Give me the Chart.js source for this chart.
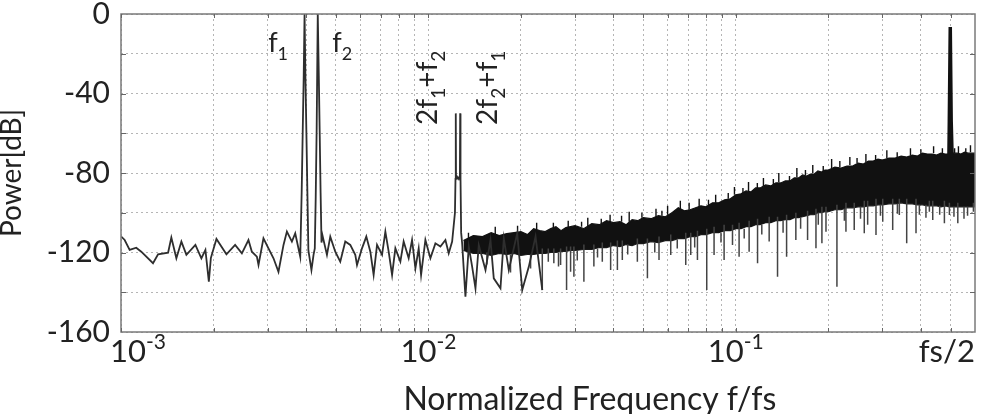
<!DOCTYPE html>
<html><head><meta charset="utf-8">
<script src="https://cdn.jsdelivr.net/npm/chart.js@4.4.1/dist/chart.umd.min.js"></script>
<style>html,body{margin:0;padding:0;background:#fff;}canvas{display:block;}</style>
</head><body>
<canvas id="c" width="981" height="414"></canvas>
<script>
// ---- data ----
const lowFreq = [1.002e-3,1.028e-3,1.067e-3,1.121e-3,1.164e-3,1.271e-3,1.320e-3,1.423e-3,1.458e-3,1.514e-3,
 1.572e-3,1.632e-3,1.746e-3,1.826e-3,1.882e-3,1.931e-3,1.960e-3,2.044e-3,2.203e-3,2.351e-3,
 2.473e-3,2.598e-3,2.665e-3,2.767e-3,2.801e-3,2.907e-3,3.018e-3,3.134e-3,3.253e-3,3.378e-3,
 3.465e-3,3.597e-3,3.688e-3,3.829e-3,3.870e-3,3.900e-3,3.930e-3,3.955e-3,3.980e-3,4.010e-3,
 4.040e-3,4.070e-3,4.164e-3,4.230e-3,4.270e-3,4.300e-3,4.330e-3,4.366e-3,4.400e-3,4.430e-3,
 4.460e-3,4.490e-3,4.520e-3,4.677e-3,4.795e-3,4.978e-3,5.168e-3,5.365e-3,5.570e-3,5.783e-3,
 5.858e-3,6.081e-3,6.281e-3,6.473e-3,6.635e-3,6.806e-3,7.067e-3,7.244e-3,7.426e-3,7.618e-3,
 7.808e-3,8.106e-3,8.308e-3,8.626e-3,8.848e-3,9.073e-3,9.299e-3,9.467e-3,9.777e-3,1.0151e-2,
 1.0539e-2,1.0942e-2,1.1360e-2,1.1644e-2,1.1946e-2,1.2200e-2,1.2250e-2,1.2276e-2,1.2300e-2,1.2400e-2,
 1.2500e-2,1.2600e-2,1.2660e-2,1.2687e-2,1.2720e-2,1.2780e-2,1.2876e-2,1.3197e-2,1.3530e-2,1.3877e-2,
 1.4228e-2,1.4583e-2,1.5337e-2,1.5922e-2,1.6319e-2,1.7158e-2,1.7590e-2,1.8262e-2,1.9453e-2,2.0196e-2,
 2.1220e-2,2.2311e-2,2.3470e-2];
const lowPower = [-112,-113.7,-118.7,-117.6,-119.6,-125.4,-120.9,-120.1,-112.5,-122.9,
 -114.5,-121.2,-116.2,-122.9,-118.7,-134.7,-122.8,-113.2,-120.9,-116.2,
 -120.4,-113.7,-119.6,-122.1,-126.3,-112.9,-117.9,-122.9,-129.7,-116.2,
 -109.5,-114.5,-110.3,-122.1,-90,-60,-31,0,-31,-60,
 -90,-119,-128.8,-121.2,-118,-92,-58,0,-31,-60,
 -90,-115,-111.2,-121.2,-112,-119.6,-124.6,-114.5,-116.2,-121.2,
 -126.3,-117.9,-112,-119.6,-131.3,-116.2,-121.2,-109.5,-119.6,-131.3,
 -117.9,-124.6,-114.5,-122.9,-113.7,-128,-117.9,-131.3,-113.7,-122.9,
 -115.4,-117,-113.7,-120.4,-114.5,-100,-83,-50,-83,-82,
 -83,-82,-83,-50,-83,-110,-115.4,-142.2,-117,-127.1,
 -138,-116.2,-128.8,-113.7,-133,-138,-112.9,-128.8,-110.3,-138.9,
 -127.1,-112,-138.9];

// dense noise band: upper and lower edge of the solid black region
const bandFreq = [0.013,0.014,0.015,0.016,0.017,0.018,0.019,0.020,0.021,0.022,
 0.023,0.024,0.025,0.026,0.027,0.028,0.029,0.030,0.032,0.034,
 0.036,0.038,0.040,0.042,0.044,0.046,0.048,0.050,0.053,0.056,
 0.059,0.062,0.065,0.068,0.071,0.074,0.077,0.080,0.084,0.088,
 0.092,0.096,0.100,0.104,0.108,0.112,0.116,0.120,0.125,0.130,
 0.135,0.140,0.145,0.150,0.155,0.160,0.165,0.170,0.175,0.180,
 0.185,0.190,0.195,0.200,0.210,0.220,0.230,0.240,0.250,0.260,
 0.270,0.280,0.290,0.300,0.315,0.330,0.345,0.360,0.375,0.390,
 0.405,0.420,0.435,0.450,0.465,0.480,0.495,0.510,0.525,0.540,
 0.555,0.570,0.585,0.600];
const bandTop = [-114,-111.5,-112,-110,-111.5,-110.5,-110,-109.5,-111,-108,
 -109,-109.5,-108,-107,-109,-107.5,-107,-106.5,-108,-105.5,
 -106,-104,-105,-104.5,-106,-103.5,-104,-102.5,-103,-101.5,
 -102,-100,-97.5,-99,-98.5,-97.5,-96.5,-97,-95,-95,
 -93.5,-93,-91,-90.5,-89,-89.5,-87.5,-87.5,-86,-86.5,
 -85,-85,-84,-84,-82.5,-82.5,-81,-81.5,-80.5,-80.5,
 -79,-79.5,-78.5,-78.5,-77,-77.5,-76.5,-76.5,-75,-75.5,
 -74,-74,-73,-73.5,-72.5,-72.5,-71.5,-72,-71,-71.5,
 -70,-70.5,-70.5,-71,-70,-70.5,-70.5,-70,-70,-70.5,
 -69.5,-70,-70,-70];
const bandBottom = [-119,-120.5,-120.5,-121.5,-120.5,-121,-120.5,-121.5,-121,-121,
 -120.5,-120.5,-120,-120,-119.5,-119.5,-119,-119,-118.5,-118.5,
 -117.5,-117.5,-116.5,-117,-116,-116.5,-115.5,-115.5,-114.5,-115,
 -114,-114,-113,-113,-112,-112,-111,-111,-110,-110,
 -109,-109,-108,-108,-107,-107,-106,-106,-105,-105,
 -104,-104,-103.5,-103.5,-102.5,-102.5,-102,-101.5,-101,-101,
 -100,-100,-99.5,-99.5,-98.5,-98.5,-97.5,-97.5,-97,-97,
 -96.5,-96.5,-96,-96,-95.5,-95.5,-95,-95.5,-95.5,-96,
 -96,-96.5,-96.5,-96.5,-97,-96.5,-97,-97,-97,-97,
 -97,-97,-97,-97];

// needles hanging below the band (base -> tip)
const spikeFreq = [2.347e-2,2.455e-2,2.559e-2,2.692e-2,2.815e-2,2.901e-2,2.974e-2,3.205e-2,3.454e-2,3.679e-2,
 3.916e-2,4.119e-2,4.274e-2,4.784e-2,5.158e-2,5.626e-2,6.143e-2,6.873e-2,7.136e-2,7.503e-2,
 8.044e-2,8.498e-2,9.161e-2,9.756e-2,0.1025,0.1105,0.1177,0.1284,0.1367,0.1463,
 0.1568,0.1712,0.1823,0.1906,0.1965,0.2133,0.2282,0.2428,0.2618,0.2685,
 0.2858,0.3006,0.3239,0.3404,0.3597,0.3857,0.4263,0.4372,0.4771,0.4953,
 0.5275,0.5929,
 0.0155,0.0185,0.0215,0.0265,0.0305,0.0355,0.0445,0.0545,0.0645,0.0735,
 0.0895,0.1065,0.1215,0.1425,0.1625,0.1855,0.2255,0.2545,0.2955,0.3355,
 0.3955,0.4155,0.4605,0.5125,0.5525,0.5675];
const spikeBase = [-118,-118,-118,-118,-117,-117,-117,-116,-116,-115,
 -115,-114,-114,-113,-113,-112,-111,-110,-110,-109,
 -108,-107,-106,-106,-105,-104,-103,-102,-102,-101,
 -100,-99,-98,-97,-97,-96,-95,-95,-94,-94,
 -93,-93,-93,-93,-93,-93,-94,-94,-94,-95,
 -95,-95,
 -120,-121,-121,-120,-119,-118,-116,-115,-113.5,-112,
 -110,-108,-106,-104,-102.5,-100,-98,-97,-96,-95.5,
 -96,-96,-96.5,-97,-97,-97];
const spikeTip = [-138.9,-124.6,-125.4,-126.3,-138.9,-129.7,-132.2,-134.7,-127.1,-124.6,
 -128.8,-128.8,-123.8,-124.6,-133,-123.8,-121.2,-126.3,-121.2,-123.8,
 -138.9,-121.2,-123.8,-116.2,-122.1,-119.6,-125.4,-114.5,-132.2,-122.1,
 -113.7,-113.7,-117.9,-115.4,-109.5,-137.2,-109.5,-108.7,-110.3,-106.1,
 -111.2,-104.5,-108.7,-101.1,-115.4,-110.3,-99.5,-103.6,-105.3,-101.1,
 -105.3,-99.5,
 -126,-130,-128,-127,-124,-122.5,-121,-120,-118,-117.5,
 -115,-113,-111,-110,-108,-106,-104,-103,-101.5,-100.5,
 -101,-102.5,-101,-102,-103,-101.5];

// needles rising above the band (base -> tip)
const upFreq = [0.0165,0.0225,0.0285,0.0330,0.0390,0.0450,0.0550,0.0600,0.0660,0.0760,
 0.0860,0.0990,0.1100,0.1230,0.1380,0.1580,0.1780,0.2050,0.2350,0.2650,
 0.3100,0.3700,0.4400,0.5300,0.5800,
 0.0135,0.0195,0.0255,0.0315,0.0365,0.0425,0.0495,0.0575,0.0705,0.0815,
 0.0945,0.1055,0.1175,0.1325,0.1495,0.1685,0.1925,0.2180,0.2480,0.2850,
 0.3350,0.4000,0.4700,0.5150,0.5600];
const upBase = [-111,-109,-107.5,-107,-105,-104.5,-102,-101,-98.5,-97,
 -95,-91,-89,-86.5,-84.5,-82,-80,-77.5,-76,-74.5,
 -72.5,-71,-70,-70,-69.5,
 -113,-109.5,-108,-107,-105.5,-104.5,-102.5,-101.5,-98.5,-96.5,
 -93,-90.5,-87.5,-86,-84,-81,-79,-77,-75,-73.5,
 -72,-70.5,-70,-70,-69.5];
const upTip = [-107,-105,-104,-102.5,-101,-99.5,-98,-96.5,-94,-93,
 -91,-87,-84.5,-82.5,-80,-77.5,-76,-73,-72,-70.5,
 -68.5,-67.5,-66.5,-66.5,-66,
 -110,-106.5,-105,-104.5,-103,-101.5,-100,-99,-95,-93.5,
 -90,-87.5,-85,-83,-81.5,-78.5,-76.5,-74,-72.5,-71,
 -69.5,-68,-67.5,-67.5,-67.5];

const toneFreq = [0.4935,0.4950,0.4965,0.4985,0.5005,0.5020,0.5040,0.5055];
const tonePower = [-72,-54,-54,-6.5,-6.5,-54,-54,-72];

const xGridTicks = [0.001,0.002,0.003,0.004,0.005,0.006,0.007,0.008,0.009,
 0.01,0.02,0.03,0.04,0.05,0.06,0.07,0.08,0.09,0.1,0.2,0.3,0.4,0.5];
const xLabelValues = [0.001,0.01,0.1,0.5];
const xLabelText = ['10^-3','10^-2','10^-1','fs/2'];
const yLabelValues = [0,-40,-80,-120,-160];
const xTitle = 'Normalized Frequency f/fs';
const yTitle = 'Power[dB]';

const annText = ['f_1','f_2','2f_1+f_2','2f_2+f_1'];
const annFreq = [3.011e-3,4.867e-3,1.070e-2,1.678e-2];
const annPower = [-19.1,-19.1,-55.8,-55.8];
const annRotated = [false,false,true,true];

// ---- helpers ----
const FONT = 'Lato, "Open Sans", sans-serif';
function parseRich(s){
  const segs=[]; let buf=''; let i=0;
  while(i<s.length){
    const c=s[i];
    if(c==='_'){ if(buf){segs.push({t:buf,m:0});buf='';} segs.push({t:s[i+1],m:1}); i+=2; }
    else if(c==='^'){ if(buf){segs.push({t:buf,m:0});buf='';} segs.push({t:s.slice(i+1),m:2}); i=s.length; }
    else { buf+=c; i++; }
  }
  if(buf) segs.push({t:buf,m:0});
  return segs;
}
function richWidth(ctx,segs,size){
  let w=0;
  for(const s of segs){ ctx.font=(s.m?Math.round(size*0.68):size)+'px '+FONT; w+=ctx.measureText(s.t).width; }
  return w;
}
function drawRich(ctx,segs,x,y,size){
  let cx=x;
  for(const s of segs){
    const sz = s.m?Math.round(size*0.68):size;
    ctx.font=sz+'px '+FONT;
    const dy = s.m===1? size*0.28 : (s.m===2? -size*0.42 : 0);
    ctx.fillText(s.t,cx,y+dy);
    cx+=ctx.measureText(s.t).width;
  }
}
function pts(xs,ys){ return xs.map((x,i)=>({x:x,y:ys[i]})); }
function segPts(fs,base,tip){
  const out=[];
  fs.forEach((f,i)=>{ out.push({x:f,y:base[i]}); out.push({x:f,y:tip[i]}); out.push({x:f,y:null}); });
  return out;
}

const decor = {
  id:'decor',
  afterDatasetsDraw(chart){
    const ctx=chart.ctx, a=chart.chartArea, xs=chart.scales.x, ys=chart.scales.y;
    ctx.save();
    ctx.strokeStyle='#7a7a7a'; ctx.lineWidth=1.5; ctx.setLineDash([]);
    ctx.strokeRect(a.left,a.top,a.right-a.left,a.bottom-a.top);
    ctx.lineWidth=1; ctx.strokeStyle='#666';
    ctx.beginPath();
    for(let v=-140; v<=-20; v+=20){
      const y=Math.round(ys.getPixelForValue(v))+0.5;
      ctx.moveTo(a.left,y); ctx.lineTo(a.left+5,y);
      ctx.moveTo(a.right-5,y); ctx.lineTo(a.right,y);
    }
    xGridTicks.forEach(v=>{
      const x=Math.round(xs.getPixelForValue(v))+0.5;
      ctx.moveTo(x,a.bottom); ctx.lineTo(x,a.bottom-4);
      ctx.moveTo(x,a.top); ctx.lineTo(x,a.top+4);
    });
    ctx.stroke();
    ctx.fillStyle='#222'; ctx.textBaseline='alphabetic'; ctx.textAlign='left';
    xLabelValues.forEach((v,i)=>{
      const segs=parseRich(xLabelText[i]);
      const w=richWidth(ctx,segs,31);
      const px=xs.getPixelForValue(v);
      let sx=Math.max(px-w/2, a.left-11);
      sx=Math.min(sx, a.right-w);
      drawRich(ctx,segs,sx,a.bottom+30,31);
    });
    ctx.font='32px '+FONT; ctx.textAlign='center';
    ctx.fillText(xTitle, a.left+(a.right-a.left)*0.549, a.bottom+78);
    ctx.textAlign='left';
    annText.forEach((t,i)=>{
      const segs=parseRich(t);
      const px=xs.getPixelForValue(annFreq[i]), py=ys.getPixelForValue(annPower[i]);
      if(annRotated[i]){
        ctx.save(); ctx.translate(px,py); ctx.rotate(-Math.PI/2);
        drawRich(ctx,segs,0,0,28); ctx.restore();
      } else {
        drawRich(ctx,segs,px,py,27);
      }
    });
    ctx.restore();
  }
};

new Chart(document.getElementById('c'),{
  type:'line',
  data:{datasets:[
    {data:pts(bandFreq,bandTop),borderColor:'#111',backgroundColor:'#111',borderWidth:1.2,fill:1,order:4},
    {data:pts(bandFreq,bandBottom),borderColor:'#222',borderWidth:1.2,fill:false,order:5},
    {data:segPts(spikeFreq,spikeBase,spikeTip),borderColor:'#444',borderWidth:1.5,fill:false,spanGaps:false,order:3},
    {data:segPts(upFreq,upBase,upTip),borderColor:'#111',borderWidth:1.4,fill:false,spanGaps:false,order:2},
    {data:pts(lowFreq,lowPower),borderColor:'#2e2e2e',borderWidth:1.8,fill:false,order:1},
    {data:pts(toneFreq,tonePower),borderColor:'#111',borderWidth:3.5,fill:false,order:0}
  ]},
  options:{
    responsive:false, animation:false,
    layout:{autoPadding:false,padding:{left:0,right:6,top:14,bottom:0}},
    elements:{point:{radius:0},line:{tension:0}},
    plugins:{legend:{display:false},tooltip:{enabled:false}},
    scales:{
      x:{type:'logarithmic',min:0.001,max:0.6,
        afterBuildTicks(s){ s.ticks = xGridTicks.map(v=>({value:v})); },
        afterFit(s){ s.height=82; s.paddingLeft=0; s.paddingRight=0; },
        ticks:{autoSkip:false,callback:()=> '',padding:0},
        grid:{color:'#b5b5b5',lineWidth:1,drawTicks:false},
        border:{display:false,dash:[2,3]}
      },
      y:{type:'linear',min:-160,max:0,
        afterFit(s){ s.width=121; s.paddingTop=0; s.paddingBottom=0; },
        ticks:{stepSize:20,padding:11,color:'#222',font:{family:FONT,size:30},
          callback:(v)=> yLabelValues.includes(v)? String(v):''},
        grid:{color:'#b5b5b5',lineWidth:1,drawTicks:false},
        border:{display:false,dash:[2,3]},
        title:{display:true,text:yTitle,color:'#222',font:{family:FONT,size:28,lineHeight:0.85},padding:{top:0,bottom:0}}
      }
    }
  },
  plugins:[decor]
});
</script>
</body></html>
